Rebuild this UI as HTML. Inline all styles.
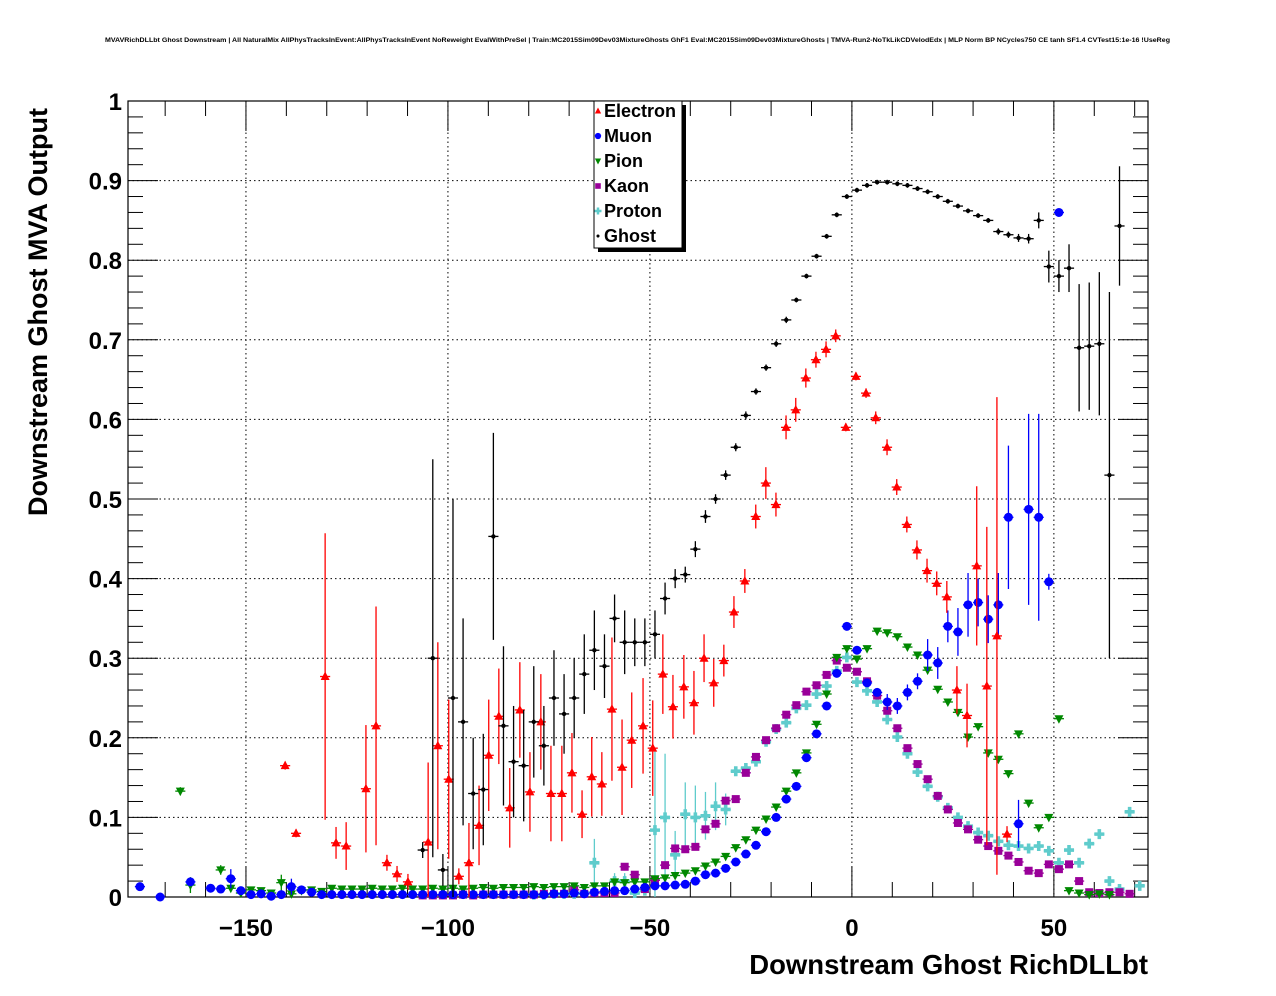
<!DOCTYPE html>
<html><head><meta charset="utf-8">
<style>
html,body{margin:0;padding:0;background:#fff;}
svg{display:block;font-family:"Liberation Sans",Arial,sans-serif;}
</style></head>
<body>
<svg id="chart" width="1276" height="996" viewBox="0 0 1276 996" xmlns="http://www.w3.org/2000/svg">
<rect width="1276" height="996" fill="#fff"/>
<text x="105" y="42" textLength="1065" lengthAdjust="spacingAndGlyphs" font-size="6.6" font-weight="bold">MVAVRichDLLbt Ghost Downstream | All NaturalMix AllPhysTracksInEvent:AllPhysTracksInEvent NoReweight EvalWithPreSel | Train:MC2015Sim09Dev03MixtureGhosts GhF1 Eval:MC2015Sim09Dev03MixtureGhosts | TMVA-Run2-NoTkLikCDVelodEdx | MLP Norm BP NCycles750 CE tanh SF1.4 CVTest15:1e-16 !UseReg</text>
<g id="grid"></g>
<g id="axes"></g>
<g id="marks"></g>
<text transform="translate(47,312) rotate(-90)" text-anchor="middle" font-size="27" font-weight="bold">Downstream Ghost MVA Output</text>
<text x="1148" y="974" text-anchor="end" font-size="27.5" font-weight="bold">Downstream Ghost RichDLLbt</text>
<g id="legend"></g>
</svg>
<script>
// ---- data ----
const binStart = -178.75; // centre of bin k=0, width 2.5
const binWidth = 2.5;
const xTicks = [-150, -100, -50, 0, 50];
const xTickLabels = ["\u2212150", "\u2212100", "\u221250", "0", "50"];
const yTicks = [0, 0.1, 0.2, 0.3, 0.4, 0.5, 0.6, 0.7, 0.8, 0.9, 1];
const yTickLabels = ["0", "0.1", "0.2", "0.3", "0.4", "0.5", "0.6", "0.7", "0.8", "0.9", "1"];
const seriesNames = ["Electron", "Muon", "Pion", "Kaon", "Proton", "Ghost"];

const muonStart = 1;
const muonY = [.013,null,0,null,null,.019,null,.011,.01,.023,.008,.003,.004,.001,.003,.013,.009,.006,.003,
 .003,.003,.003,.003,.003,.003,.003,.003,.003,.003,.003,.003,.003,.003,.003,.003,.003,.003,.003,.003,.003,.003,
 .004,.004,.005,.004,.006,.007,.008,.008,.01,.012,
 .014,.014,.015,.016,.02,.028,.03,.036,.044,.054,.065,.082,.1,.123,.139,.175,.205,.24,.281,.34,
 .31,.269,.257,.245,.24,.257,.271,.304,.294,.34,.333,.367,.37,.349,.367,.477,.092,.487,.477,.396,.86];
const muonErrLeft = [0,0,0,0,0,.005,0,0,0,.012,0,0,0,0,0,.01,.005,0,0];
const muonErrRight = [.01,.01,.01,.01,.02,.02,.02,.03,.04,.03,.03,.04,.09,.03,.12,.13,.01,.003];

const pionStart = 5;
const pionY = [.133,.015,null,null,.034,.011,.005,.009,.008,.005,.018,.004,.008,.009,.007,.011,
 .01,.01,.01,.011,.01,.01,.011,.01,.01,.011,.01,.011,.01,.011,.012,.011,.012,.012,.012,.013,.012,.013,
 .013,.014,.012,.014,.014,.019,.018,.019,.019,.023,.024,.027,.03,.033,.039,.044,.051,.062,.072,.084,.098,
 .113,.133,.156,.181,.217,.255,.301,.312,.299,.312,.334,.332,.327,.314,.304,.285,.261,.245,.232,.201,.214,
 .181,.173,.155,.205,.118,.087,.1,.224,.008,.005,.003,.004,.003];
const pionErr = [.005,.01,0,0,.006,0,0,0,0,0,.01];

const kaonStart = 29;
const kaonY = [.002,.002,.002,.002,.003,.002,.003,.003,.003,.003,.003,.003,.004,.004,.004,
 .009,.004,.005,.005,.005,.038,.028,.01,.021,.04,.061,.06,.063,.085,.092,.121,.123,.156,.176,.197,.212,
 .229,.241,.258,.266,.279,.297,.288,.283,.271,.253,.234,.212,.187,.167,.148,.127,.11,.093,.085,.072,.064,
 .058,.052,.044,.033,.03,.041,.035,.041,.02,.006,.005,.006,.006,.004];

const protonStart = 40;
const protonY = [.003,.003,.004,.004,.004,.005,.043,null,.02,.02,.005,.008,.084,.1,.053,.104,.1,.102,.114,.11,
 .158,.162,.17,.195,.211,.219,.237,.241,.255,.265,.284,.301,.27,.259,.245,.223,.201,.18,.157,.139,.126,.112,
 .1,.089,.081,.077,.07,.065,.064,.061,.064,.058,.043,.059,.043,.067,.079,.02,.01,.107,.014];
const protonErr = [0,0,0,0,0,0,.03,0,.01,.01,0,0,.1,.08,.03,.04,.04,.03,.03,.02];

const ghostStart = 29;
const ghostY = [.059,.30,.034,.25,.22,.13,.135,.453,.215,.17,.165,.22,.19,.25,.23,.25,.28,.31,.29,.35,.32,.32,
 .32,.33,.375,.40,.405,.437,.478,.5,.53,.565,.605,.635,.665,.695,.725,.75,.78,.805,.83,.857,.88,
 .888,.894,.898,.898,.896,.894,.89,.886,.88,.874,.868,.862,.856,.85,.836,.832,.828,.827,
 .85,.792,.78,.79,.69,.692,.695,.53,.843];
const ghostErr = [.01,.25,.02,.25,.13,.07,.07,.13,.1,.07,.07,.07,.05,.06,.05,.05,.05,.05,.04,.03,.04,.03,
 .03,.03,.02,.012,.01,.01,.008,.006,.006,.005,.005,.004,.004,.004,.004,.003,.003,.003,.003,.003,.003,
 .003,.003,.003,.003,.003,.003,.003,.003,.003,.003,.003,.003,.003,.003,.004,.004,.005,.006,
 .01,.02,.02,.03,.08,.08,.09,.23,.075];

const electronX = [-140.3,-137.6,-130.4,-127.7,-125.2,-120.3,-117.8,-115.1,-112.6,-109.9,-104.9,-102.5,-99.8,
 -97.3,-94.8,-92.3,-89.9,-87.4,-84.7,-82.2,-79.7,-77,-74.5,-71.8,-69.3,-66.8,-64.4,-61.9,-59.4,-56.9,-54.5,
 -51.7,-49.3,-46.8,-44.3,-41.6,-39.1,-36.6,-34.2,-31.7,-29.2,-26.5,-23.8,-21.3,-18.8,-16.3,-13.9,-11.4,-8.9,
 -6.4,-4,-1.5,1,3.5,5.9,8.7,11.1,13.6,16.1,18.6,21,23.5,26,28.5,30.9,33.4,35.9,38.4];
const electronY = [.165,.08,.277,.068,.064,.136,.215,.043,.029,.019,.069,.19,.148,.026,.043,.09,.178,.227,
 .112,.235,.132,.22,.13,.13,.156,.104,.151,.142,.236,.163,.197,.215,.187,.28,.239,.264,.244,.3,.269,.297,
 .358,.397,.478,.52,.493,.59,.612,.652,.675,.688,.705,.59,.654,.633,.602,.565,.515,.468,.436,.41,.394,.377,
 .26,.228,.416,.265,.328,.079];
const electronErr = [.005,.005,.18,.02,.03,.08,.15,.01,.01,.01,.1,.13,.1,.01,.05,.05,.07,.06,.05,.06,.05,.06,
 .06,.06,.05,.03,.05,.04,.09,.06,.06,.06,.06,.05,.04,.04,.04,.03,.03,.02,.02,.015,.015,.02,.015,.015,.015,.012,
 .01,.01,.008,.005,.005,.006,.008,.01,.01,.01,.012,.015,.015,.02,.03,.04,.1,.2,.3,.01];

// ---- axes ----
const L = 128, R = 1148, T = 101, B = 897;
const xMin = -179.2, xMax = 73.3, yMin = 0, yMax = 1;
function X(v){ return L + (v - xMin) / (xMax - xMin) * (R - L); }
function Y(v){ return B - (v - yMin) / (yMax - yMin) * (B - T); }
const NS = "http://www.w3.org/2000/svg";
function el(tag, attrs, parent){ const e = document.createElementNS(NS, tag); for (const k in attrs) e.setAttribute(k, attrs[k]); parent.appendChild(e); return e; }

const grid = document.getElementById('grid');
const axes = document.getElementById('axes');
const marks = document.getElementById('marks');

xTicks.forEach((t, i) => {
  const g = el('line', {x1: X(t), x2: X(t), y1: T, y2: B, stroke: '#000', 'stroke-width': 1, 'stroke-dasharray': '1.5,3'}, grid);
  
  
  const lab = el('text', {x: X(t), y: 936, 'text-anchor': 'middle', 'font-size': 24, 'font-weight': 'bold'}, axes);
  lab.textContent = xTickLabels[i];
  
  
});
yTicks.forEach((t, i) => {
  if (t > 0 && t < 1) {
    const g = el('line', {x1: L, x2: R, y1: Y(t), y2: Y(t), stroke: '#000', 'stroke-width': 1, 'stroke-dasharray': '1.5,3'}, grid);
    
    
  }
  const lab = el('text', {x: 122, y: Y(t) + 9, 'text-anchor': 'end', 'font-size': 24, 'font-weight': 'bold'}, axes);
  lab.textContent = yTickLabels[i];
  
  
});
const frame = el('rect', {x: L, y: T, width: R - L, height: B - T, fill: 'none', stroke: '#000', 'stroke-width': 1.2}, axes);


for (let v = -170; v <= 70; v += 10) {
  const major = v % 50 === 0;
  const len = major ? 30 : 15;
  el('line', {x1: X(v), x2: X(v), y1: B, y2: B - len, stroke: '#000', 'stroke-width': 1}, axes);
  el('line', {x1: X(v), x2: X(v), y1: T, y2: T + len, stroke: '#000', 'stroke-width': 1}, axes);
}
for (let k = 0; k <= 50; k++) {
  const v = k * 0.02;
  const major = k % 5 === 0;
  const len = major ? 30 : 15;
  el('line', {x1: L, x2: L + len, y1: Y(v), y2: Y(v), stroke: '#000', 'stroke-width': 1}, axes);
  el('line', {x1: R, x2: R - len, y1: Y(v), y2: Y(v), stroke: '#000', 'stroke-width': 1}, axes);
}

// ---- markers ----
function marker(type, cx, cy, color, parent){
  let m;
  if (type === 'tri-up') m = el('polygon', {points: `${cx},${cy-5} ${cx-4.5},${cy+3.5} ${cx+4.5},${cy+3.5}`, fill: color}, parent);
  else if (type === 'tri-down') m = el('polygon', {points: `${cx},${cy+5} ${cx-4.5},${cy-3.5} ${cx+4.5},${cy-3.5}`, fill: color}, parent);
  else if (type === 'circle') m = el('circle', {cx: cx, cy: cy, r: 4.5, fill: color}, parent);
  else if (type === 'square') m = el('rect', {x: cx-4, y: cy-4, width: 8, height: 8, fill: color}, parent);
  else if (type === 'cross') m = el('path', {d: `M${cx-1.8},${cy-5}h3.6v3.2h3.2v3.6h-3.2v3.2h-3.6v-3.2h-3.2v-3.6h3.2z`, fill: color}, parent);
  else m = el('circle', {cx: cx, cy: cy, r: 2.2, fill: color}, parent);
  return m;
}
function drawPoint(x, y, err, color, type, g){
  if (y === null || y === undefined) return;
  const cx = X(x), cy = Y(y);
  el('line', {x1: X(x - binWidth / 2), x2: X(x + binWidth / 2), y1: cy, y2: cy, stroke: color, 'stroke-width': 1.3}, g);
  if (err) el('line', {x1: cx, x2: cx, y1: Y(Math.max(0, y - err)), y2: Y(Math.min(1, y + err)), stroke: color, 'stroke-width': 1.3}, g);
  marker(type, cx, cy, color, g);
}
function drawBinned(name, start, ys, errs, color, type){
  const g = el('g', {}, marks);
  
  
  ys.forEach((y, i) => drawPoint(binStart + (start + i) * binWidth, y, (errs && errs[i]) || 0, color, type, g));
}
// muon errors: left part aligned to start, right part aligned to end of series
const muonErr = muonY.map((y, i) => {
  if (i < muonErrLeft.length) return muonErrLeft[i];
  const j = i - (muonY.length - muonErrRight.length);
  return j >= 0 ? muonErrRight[j] : 0.003;
});
drawBinned('series-proton', protonStart, protonY, protonErr, '#5fcccc', 'cross');
drawBinned('series-kaon', kaonStart, kaonY, null, '#990099', 'square');
drawBinned('series-pion', pionStart, pionY, pionErr, '#008800', 'tri-down');
drawBinned('series-muon', muonStart, muonY, muonErr, '#0000ff', 'circle');
(function(){
  const g = el('g', {}, marks);
  
  
  electronX.forEach((x, i) => drawPoint(x, electronY[i], electronErr[i], '#ff0000', 'tri-up', g));
})();
drawBinned('series-ghost', ghostStart, ghostY, ghostErr, '#000000', 'dot');

// ---- legend ----
const lg = document.getElementById('legend');
el('rect', {x: 598, y: 105, width: 88, height: 147, fill: '#000'}, lg);
const box = el('rect', {x: 594, y: 101, width: 88, height: 147, fill: '#fff', stroke: '#000', 'stroke-width': 1}, lg);


const legColors = ['#ff0000', '#0000ff', '#008800', '#990099', '#5fcccc', '#000000'];
const legTypes = ['tri-up', 'circle', 'tri-down', 'square', 'cross', 'dot'];
seriesNames.forEach((n, i) => {
  const yy = 111 + i * 25;
  const g = el('g', {}, lg);
  
  
  const m = marker(legTypes[i], 598, yy, legColors[i], g);
  m.setAttribute('transform', `translate(${598*0.3},${yy*0.3}) scale(0.7)`);
  const t = el('text', {x: 604, y: yy + 6, 'font-size': 18, 'font-weight': 'bold'}, g);
  t.textContent = n;
});
</script>
</body></html>
